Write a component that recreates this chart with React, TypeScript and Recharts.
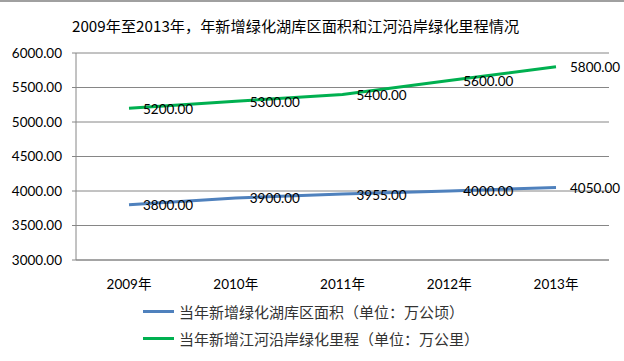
import { LineChart, Line, XAxis, YAxis, CartesianGrid, Legend, LabelList } from "recharts";

const years = ["2009年", "2010年", "2011年", "2012年", "2013年"];
const lakeArea = [3800, 3900, 3955, 4000, 4050];
const riverMileage = [5200, 5300, 5400, 5600, 5800];
const yTicks = [3000, 3500, 4000, 4500, 5000, 5500, 6000];

const TITLE = "2009年至2013年，年新增绿化湖库区面积和江河沿岸绿化里程情况";
const LAKE_NAME = "当年新增绿化湖库区面积（单位：万公顷）";
const RIVER_NAME = "当年新增江河沿岸绿化里程（单位：万公里）";

const BLUE = "#4F81BD";
const GREEN = "#00B050";
const GRID = "#868686";
const FONT = "Lato, 'Noto Sans CJK SC', sans-serif";

const data = years.map((year, i) => ({ year, lake: lakeArea[i], river: riverMileage[i] }));

const renderValue = (props: any) => {
  const { x, y, value } = props;
  return (
    <text x={x + 14} y={y + 2} dominantBaseline="middle" fontSize={13.5} fontFamily={FONT} fill="#000">
      {Number(value).toFixed(2)}
    </text>
  );
};

const LegendBox = () => (
  <div style={{ fontFamily: "'Noto Sans CJK SC', sans-serif", fontSize: 15, color: "#333" }}>
    {[
      { name: LAKE_NAME, color: BLUE },
      { name: RIVER_NAME, color: GREEN },
    ].map((item) => (
      <div key={item.name} style={{ display: "flex", alignItems: "center", height: 27 }}>
        <span style={{ display: "inline-block", width: 31, height: 3, background: item.color, marginRight: 5 }} />
        <span>{item.name}</span>
      </div>
    ))}
  </div>
);

export default function App() {
  return (
    <div style={{ position: "absolute", left: 0, top: 0, width: 624, height: 361, background: "#fff" }}>
      <div style={{ position: "absolute", left: 0, top: 0, width: 624, height: 2, background: "#a0a0a0" }} />
      <div
        style={{
          position: "absolute",
          left: 72,
          top: 14,
          fontFamily: "'Noto Sans CJK SC', sans-serif",
          fontSize: 15.2,
          color: "#000",
          whiteSpace: "nowrap",
        }}
      >
        {TITLE}
      </div>
      <LineChart width={624} height={361} data={data} margin={{ top: 53, right: 15, left: 0, bottom: 71 }}>
        <CartesianGrid vertical={false} stroke={GRID} strokeWidth={1} />
        <XAxis
          dataKey="year"
          padding={{ left: 53, right: 53 }}
          stroke={GRID}
          tickLine={false}
          tickMargin={13}
          height={30}
          tick={{ fontSize: 13.5, fontFamily: FONT, fill: "#000" }}
        />
        <YAxis
          domain={[3000, 6000]}
          ticks={yTicks}
          width={76}
          stroke={GRID}
          tickSize={4}
          tickMargin={10}
          tickFormatter={(v: number) => v.toFixed(2)}
          tick={{ fontSize: 13.5, fontFamily: FONT, fill: "#000" }}
        />
        <Legend
          layout="vertical"
          align="center"
          verticalAlign="middle"
          wrapperStyle={{ top: 298, left: 143, width: 360 }}
          content={<LegendBox />}
        />
        <Line dataKey="lake" name={LAKE_NAME} stroke={BLUE} strokeWidth={3} dot={false} isAnimationActive={false}>
          <LabelList dataKey="lake" content={renderValue} />
        </Line>
        <Line dataKey="river" name={RIVER_NAME} stroke={GREEN} strokeWidth={3} dot={false} isAnimationActive={false}>
          <LabelList dataKey="river" content={renderValue} />
        </Line>
      </LineChart>
    </div>
  );
}
